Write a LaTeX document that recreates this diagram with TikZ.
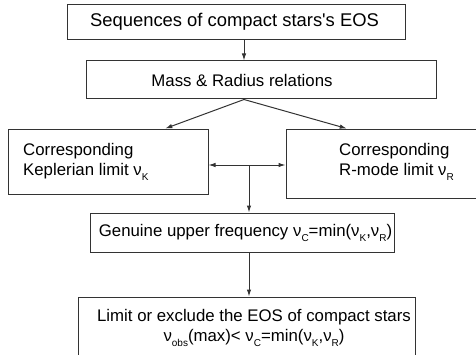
\documentclass[tikz,border=0pt]{standalone}
\usepackage{fontspec}
\setmainfont{Liberation Sans}
\usetikzlibrary{arrows.meta, calc}

\newcommand{\lowsub}[1]{\raisebox{-4.5pt}{\fontsize{10}{10}\selectfont #1}}

\tikzset{
    box/.style={rectangle, draw=black!80, line width=1pt, inner sep=0pt},
    txt/.style={inner sep=0pt, font=\fontsize{16.8}{20}\selectfont},
    flow/.style={-{Latex[length=7pt, width=4.5pt]}, line width=1pt, draw=black!80}
}

\begin{document}
\begin{tikzpicture} [
    x=1pt, y=1pt,
    both/.style={{Latex[length=7pt, width=4.5pt]}-{Latex[length=7pt, width=4.5pt]}, line width=1pt, draw=black!80}
]
    \useasboundingbox (0,0) rectangle (476,354);

    % Input
    \node[box, minimum width=338pt, minimum height=35pt] (eos) at (236,331.5) {};
    \node[txt, font=\fontsize{18.4}{20}\selectfont] (eostext) at (234.5,332) {Sequences of compact stars\textquotesingle s EOS};

    % Mass and radius
    \node[box, minimum width=350pt, minimum height=38pt] (mass) at (261,274) {};
    \node[txt] (masstext) at (242,274) {Mass \& Radius relations};

    % Two limits
    \node[box, minimum width=200pt, minimum height=65pt] (kepler) at (108,192.5) {};
    \node[txt, anchor=west, align=left] (keplertext) at (23,192) {Corresponding\\Keplerian limit ν\lowsub{K}};

    \node[box, minimum width=210pt, minimum height=69pt] (rmode) at (391,190.5) {};
    \node[txt, anchor=west, align=left] (rmodetext) at (339,192) {Corresponding\\R-mode limit ν\lowsub{R}};

    % Upper frequency
    \node[box, minimum width=304pt, minimum height=39pt] (genuine) at (242,121.5) {};
    \node[txt] (genuinetext) at (245.5,121) {Genuine upper frequency ν\lowsub{C}=min(ν\lowsub{K},ν\lowsub{R})};

    % Output
    \node[box, minimum width=337pt, minimum height=73pt] (limit) at (246.5,20.5) {};
    \node[txt, align=center] (limittext) at (254,26) {Limit or exclude the EOS of compact stars\\ν\lowsub{obs}(max)< ν\lowsub{C}=min(ν\lowsub{K},ν\lowsub{R})};

    % Flows
    \coordinate (spine) at (244,0);
    \coordinate (split) at (249,189);
    \draw[flow] (spine |- eos.south) -- (spine |- mass.north);
    \draw[flow] (spine |- mass.south) -- ($(kepler.north west)!0.785!(kepler.north east)$);
    \draw[flow] (spine |- mass.south) -- ($(rmode.north west)!0.29!(rmode.north east)$);
    \draw[both] (kepler.east |- split) -- (rmode.west |- split);
    \draw[flow] (split) -- (split |- genuine.north);
    \draw[flow] (genuine.south -| split) -- (split |- limit.north);
\end{tikzpicture}
\end{document}
